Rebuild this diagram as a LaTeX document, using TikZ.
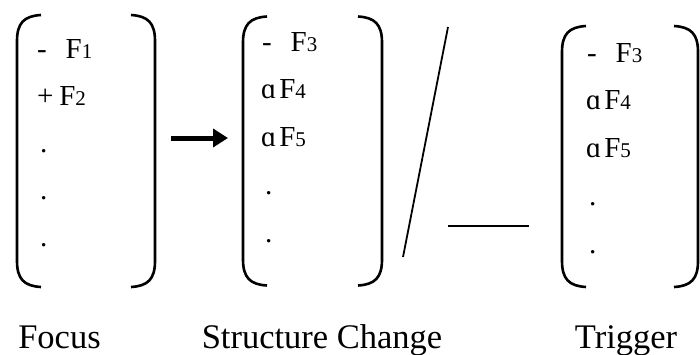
\documentclass[tikz,border=0pt]{standalone}
\usepackage{fontspec}
\setmainfont{Liberation Serif}
\usetikzlibrary{arrows.meta, positioning}

\newcommand{\idx}[1]{{\fontsize{21}{21}\selectfont #1}}

\begin{document}
\begin{tikzpicture}[
    x=1pt, y=-1pt,
    entry/.style={anchor=base west, inner sep=0pt, font=\fontsize{29}{29}\selectfont},
    lbl/.style={anchor=base, inner sep=0pt, font=\fontsize{34.5}{34.5}\selectfont},
    grp/.style={minimum width=#1, inner sep=0pt, outer sep=0pt},
    paren/.style={line width=2.6pt},
    arr/.style={-{Triangle[length=15pt, width=18pt]}, line width=5pt},
]
\useasboundingbox (0,0) rectangle (700,354);

% Bracket groups
\node[grp=138pt, minimum height=272pt] (focus) at (86,151) {};
\node[grp=139pt, minimum height=269pt] (change) at (312.5,151) {};
\node[grp=136pt, minimum height=261pt] (trigger) at (630,156.5) {};

\foreach \g in {focus, change, trigger} {
  \draw[paren] ([xshift=24pt]\g.north west) .. controls ([xshift=7pt, yshift=-1pt]\g.north west) and ([yshift=-8pt]\g.north west) .. ([yshift=-26pt]\g.north west)
    -- ([yshift=26pt]\g.south west) .. controls ([yshift=8pt]\g.south west) and ([xshift=7pt, yshift=1pt]\g.south west) .. ([xshift=24pt]\g.south west);
  \draw[paren] ([xshift=-24pt]\g.north east) .. controls ([xshift=-7pt, yshift=-1pt]\g.north east) and ([yshift=-8pt]\g.north east) .. ([yshift=-26pt]\g.north east)
    -- ([yshift=26pt]\g.south east) .. controls ([yshift=8pt]\g.south east) and ([xshift=-7pt, yshift=1pt]\g.south east) .. ([xshift=-24pt]\g.south east);
}

% Focus entries
\node[entry] (f1) at (37,58) {-\hspace{0.65em}F\idx{1}};
\node[entry] (f2) at (37,105) {+\hspace{0.2em}F\idx{2}};
\node[entry] (fd1) at (40,152) {.};
\node[entry] (fd2) at (40,199) {.};
\node[entry] (fd3) at (40,246) {.};

% Structure change entries
\node[entry] (c3) at (262,51) {-\hspace{0.65em}F\idx{3}};
\node[entry] (c4) at (261,98) {ɑ\hspace{0.1em}F\idx{4}};
\node[entry] (c5) at (261,146) {ɑ\hspace{0.1em}F\idx{5}};
\node[entry] (cd1) at (265,194) {.};
\node[entry] (cd2) at (265,242) {.};

% Trigger entries
\node[entry] (t3) at (587,62) {-\hspace{0.65em}F\idx{3}};
\node[entry] (t4) at (586,109) {ɑ\hspace{0.1em}F\idx{4}};
\node[entry] (t5) at (586,157) {ɑ\hspace{0.1em}F\idx{5}};
\node[entry] (td1) at (589,205) {.};
\node[entry] (td2) at (589,253) {.};

% Arrow and separators
\draw[arr, shorten <=16pt, shorten >=15pt] ([yshift=13pt]focus.east) -- ([yshift=13pt]change.west);
\draw[line width=1.8pt] (448,27) -- (403,257);
\draw[line width=2.6pt] (448,226) -- (529,226);

% Labels
\node[lbl] (lfocus) at (59.5,348) {Focus};
\node[lbl] (lchange) at (322,348) {Structure Change};
\node[lbl] (ltrigger) at (626,348) {Trigger};

\end{tikzpicture}
\end{document}
